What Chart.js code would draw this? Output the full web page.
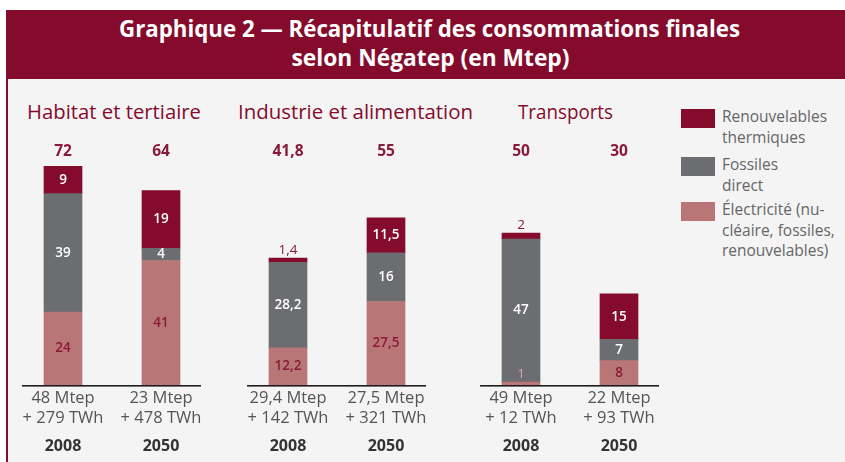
<!DOCTYPE html>
<html>
<head>
<meta charset="utf-8">
<script src="https://cdn.jsdelivr.net/npm/chart.js@4/dist/chart.umd.min.js"></script>
<style>
  html, body { margin:0; padding:0; width:845px; height:462px; overflow:hidden; background:#ffffff; }
  #frame { position:absolute; left:6px; top:10px; width:839px; height:452px; background:#f4f4f4; }
  #banner { position:absolute; left:6px; top:10px; width:839px; height:69px; background:#850b2d; }
  #leftline { position:absolute; left:6px; top:79px; width:2px; height:383px; background:#850b2d; }
  .tline { position:absolute; left:0; width:860px; text-align:center; color:#fff;
           font-family:"Open Sans", sans-serif; font-weight:700; font-size:24px; line-height:30px; white-space:nowrap; }
  .tline span { display:inline-block; transform-origin:center; }
  .gtitle { position:absolute; color:#850b2d; font-family:"Open Sans", sans-serif; font-size:20px; font-weight:500;
            line-height:26px; white-space:nowrap; transform-origin:left center; }
  canvas.grp { position:absolute; top:142px; }
  .sw { position:absolute; left:681px; width:34px; height:19px; }
  .lt { position:absolute; left:722px; color:#666; font-family:"Open Sans", sans-serif; font-size:15.5px;
        line-height:20.5px; white-space:nowrap; }
</style>
</head>
<body>
<div id="frame"></div>
<div id="banner"></div>
<div id="leftline"></div>
<div class="tline" style="top:13px"><span id="t1">Graphique 2 — Récapitulatif des consommations finales</span></div>
<div class="tline" style="top:42px"><span id="t2">selon Négatep (en Mtep)</span></div>
<div id="gtitles"></div>
<canvas class="grp" id="c0" width="196" height="320" style="left:14px"></canvas>
<canvas class="grp" id="c1" width="196" height="320" style="left:239px"></canvas>
<canvas class="grp" id="c2" width="196" height="320" style="left:472px"></canvas>
<div id="legend"></div>
<script>
// ---- data ----
const groups = ['Habitat et tertiaire', 'Industrie et alimentation', 'Transports'];
const years = ['2008', '2050', '2008', '2050', '2008', '2050'];
const barLabels = [
  ['48 Mtep', '+ 279 TWh'], ['23 Mtep', '+ 478 TWh'],
  ['29,4 Mtep', '+ 142 TWh'], ['27,5 Mtep', '+ 321 TWh'],
  ['49 Mtep', '+ 12 TWh'], ['22 Mtep', '+ 93 TWh']
];
const electricite = [24, 41, 12.2, 27.5, 1, 8];
const fossiles = [39, 4, 28.2, 16, 47, 7];
const renouvelables = [9, 19, 1.4, 11.5, 2, 15];
const seriesNames = ['Électricité (nucléaire, fossiles, renouvelables)', 'Fossiles direct', 'Renouvelables thermiques'];
const legendLines = [['Renouvelables', 'thermiques'], ['Fossiles', 'direct'], ['Électricité (nu-', 'cléaire, fossiles,', 'renouvelables)']];

// ---- styles ----
const RED = '#850b2d', GRAY = '#6c6d71', PINK = '#b97676';
const seriesColors = [PINK, GRAY, RED];
const insideColors = ['#8a1a3a', '#ffffff', '#ffffff'];
const aboveColors = ['#d6a5a8', '#8a1a3a', '#8a1a3a'];
const FONT = '"Open Sans", sans-serif';

function fmt(v) { return String(Math.round(v * 10) / 10).replace('.', ','); }

const labelPlugin = {
  id: 'segLabels',
  afterDatasetsDraw(chart) {
    const ctx = chart.ctx;
    const xs = chart.scales.x;
    const area = chart.chartArea;
    ctx.save();
    ctx.textAlign = 'center';
    ctx.textBaseline = 'middle';
    chart.data.datasets.forEach((ds, di) => {
      const meta = chart.getDatasetMeta(di);
      meta.data.forEach((bar, i) => {
        const v = ds.data[i];
        const top = Math.min(bar.y, bar.base), bottom = Math.max(bar.y, bar.base);
        if (v < 3) {
          ctx.font = '400 13.5px ' + FONT;
          ctx.fillStyle = aboveColors[di];
          ctx.fillText(fmt(v), bar.x, top - 8);
        } else {
          ctx.font = '600 13.5px ' + FONT;
          ctx.fillStyle = insideColors[di];
          ctx.fillText(fmt(v), bar.x, (top + bottom) / 2);
        }
      });
    });
    // totals
    ctx.font = '700 15.5px ' + FONT;
    ctx.fillStyle = '#8a1a3a';
    chart.data.labels.forEach((l, i) => {
      const s = chart.data.datasets.reduce((a, ds) => a + ds.data[i], 0);
      ctx.fillText(fmt(s), xs.getPixelForValue(i), area.top + 10);
    });
    // baseline
    const x0 = xs.getPixelForValue(0) - 41, x1 = xs.getPixelForValue(1) + 40;
    ctx.fillStyle = '#1e1e1e';
    ctx.fillRect(x0, area.bottom, x1 - x0, 1.6);
    ctx.restore();
  }
};

for (let g = 0; g < 3; g++) {
  const sl = a => a.slice(2 * g, 2 * g + 2);
  const seriesData = [electricite, fossiles, renouvelables];
  new Chart(document.getElementById('c' + g), {
    type: 'bar',
    data: {
      labels: sl(barLabels),
      datasets: seriesData.map((d, k) => ({
        label: seriesNames[k], data: sl(d), backgroundColor: seriesColors[k],
        borderWidth: 0, barThickness: 38, xAxisID: 'x'
      }))
    },
    options: {
      responsive: false, animation: false, devicePixelRatio: 1,
      layout: { padding: 0 },
      plugins: { legend: { display: false }, tooltip: { enabled: false }, title: { display: false } },
      scales: {
        x: {
          stacked: true, weight: 0,
          grid: { display: false, drawTicks: false }, border: { display: false },
          ticks: { color: '#555', font: { family: FONT, size: 16.5, lineHeight: 1.18 }, padding: 4, maxRotation: 0, autoSkip: false },
          afterFit(s) { s.height = 50; }
        },
        x2: {
          type: 'category', labels: sl(years), position: 'bottom', offset: true, weight: 1,
          grid: { display: false, drawTicks: false }, border: { display: false },
          ticks: { color: '#333', font: { family: FONT, size: 16, weight: 'bold', lineHeight: 1.25 }, padding: 1, maxRotation: 0 },
          afterFit(s) { s.height = 27; }
        },
        y: { stacked: true, display: false, min: 0, max: 80 }
      }
    },
    plugins: [labelPlugin]
  });
}

// ---- HTML title fitting, group titles, legend ----
function fitX(el, w) { const r = el.getBoundingClientRect().width; el.style.transform = 'scaleX(' + (w / r) + ')'; }
fitX(document.getElementById('t1'), 621);
fitX(document.getElementById('t2'), 278);

const gPos = [[27, 174], [238, 235], [518, 95]];
const gt = document.getElementById('gtitles');
groups.forEach((name, i) => {
  const d = document.createElement('div');
  d.className = 'gtitle';
  d.textContent = name;
  d.style.left = gPos[i][0] + 'px';
  d.style.top = (112 - 13) + 'px';
  gt.appendChild(d);
  fitX(d, gPos[i][1]);
});

const lg = document.getElementById('legend');
const swTops = [109, 157, 202];
const legColors = [RED, GRAY, PINK];
legendLines.forEach((lines, i) => {
  const s = document.createElement('div');
  s.className = 'sw'; s.style.top = swTops[i] + 'px'; s.style.background = legColors[i];
  lg.appendChild(s);
  const t = document.createElement('div');
  t.className = 'lt'; t.style.top = (swTops[i] - 3) + 'px';
  t.innerHTML = lines.join('<br>');
  lg.appendChild(t);
});
</script>
</body>
</html>
